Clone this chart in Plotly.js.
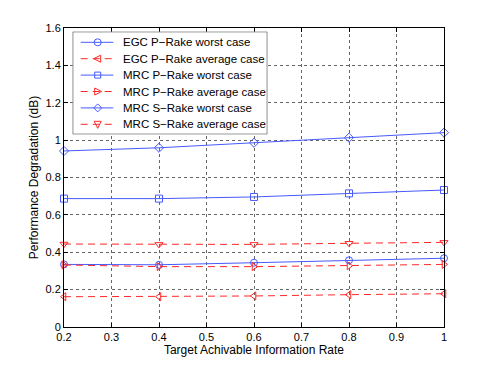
<!DOCTYPE html>
<html>
<head>
<meta charset="utf-8">
<script src="https://cdn.plot.ly/plotly-3.0.1.min.js"></script>
<style>
  html, body { margin: 0; padding: 0; background: #fff; }
  #chart { width: 491px; height: 369px; }
</style>
</head>
<body>
<div id="chart"></div>
<script>
// target achievable information rate
const rates = [0.2, 0.4, 0.6, 0.8, 1.0];

// performance degradation (dB)
const egcPWorst = [0.335, 0.333, 0.344, 0.357, 0.368];
const egcPAvg = [0.162, 0.162, 0.166, 0.173, 0.178];
const mrcPWorst = [0.687, 0.687, 0.696, 0.715, 0.733];
const mrcPAvg = [0.332, 0.323, 0.323, 0.328, 0.335];
const mrcSWorst = [0.942, 0.959, 0.986, 1.013, 1.04];
const mrcSAvg = [0.444, 0.442, 0.442, 0.448, 0.453];

const seriesNames = [
    'EGC P\u2212Rake worst case',
    'EGC P\u2212Rake average case',
    'MRC P\u2212Rake worst case',
    'MRC P\u2212Rake average case',
    'MRC S\u2212Rake worst case',
    'MRC S\u2212Rake average case'
];

const blue = 'rgb(70,90,255)';
const red = 'rgb(255,40,40)';
const dashed = '7px,5px';

const styles = [
    { color: blue, dash: 'solid', symbol: 'circle-open' },
    { color: red, dash: dashed, symbol: 'triangle-left-open' },
    { color: blue, dash: 'solid', symbol: 'square-open' },
    { color: red, dash: dashed, symbol: 'triangle-right-open' },
    { color: blue, dash: 'solid', symbol: 'diamond-open' },
    { color: red, dash: dashed, symbol: 'triangle-down-open' }
];
const seriesData = [egcPWorst, egcPAvg, mrcPWorst, mrcPAvg, mrcSWorst, mrcSAvg];

const traces = seriesData.map((y, i) => ({
    x: rates,
    y: y,
    name: seriesNames[i],
    type: 'scatter',
    mode: 'lines+markers',
    cliponaxis: false,
    line: { color: styles[i].color, width: 1, dash: styles[i].dash },
    marker: { symbol: styles[i].symbol, size: 7, color: styles[i].color,
              line: { color: styles[i].color, width: 1 } }
}));

// hand-made legend (matlab style, tighter rows than plotly's own legend),
// drawn as shapes on a hidden axis pair measured in pixels
const plotW = 380, plotH = 299;
const boxL = 8.7, boxT = 3.7, boxW = 194.6, boxH = 102.6;
const rowStep = 16.4, rowFirst = 10.6;
const mx = 25, r = 3.5;

function markerShape(symbol, y, color) {
    const base = { xref: 'x2', yref: 'y2', layer: 'above',
                   line: { color: color, width: 1 }, fillcolor: 'rgba(0,0,0,0)' };
    let path;
    if (symbol === 'circle-open') {
        return Object.assign(base, { type: 'circle', x0: mx - r, x1: mx + r, y0: y - r, y1: y + r });
    }
    if (symbol === 'square-open') {
        return Object.assign(base, { type: 'rect', x0: mx - 3, x1: mx + 3, y0: y - 3, y1: y + 3 });
    }
    if (symbol === 'diamond-open') {
        path = `M${mx},${y - 4} L${mx + 4},${y} L${mx},${y + 4} L${mx - 4},${y} Z`;
    } else if (symbol === 'triangle-left-open') {
        path = `M${mx - 4},${y} L${mx + 3},${y - r} L${mx + 3},${y + r} Z`;
    } else if (symbol === 'triangle-right-open') {
        path = `M${mx + 4},${y} L${mx - 3},${y - r} L${mx - 3},${y + r} Z`;
    } else {
        path = `M${mx - r},${y - 3} L${mx + r},${y - 3} L${mx},${y + 4} Z`;
    }
    return Object.assign(base, { type: 'path', path: path });
}

const legendShapes = [{
    type: 'rect', xref: 'x2', yref: 'y2', layer: 'above',
    x0: 0, x1: boxW, y0: 0, y1: boxH,
    fillcolor: '#fff', line: { color: '#000', width: 1 }
}];
const legendNotes = [];
seriesNames.forEach((name, i) => {
    const ry = rowFirst + rowStep * i;
    legendShapes.push({
        type: 'line', xref: 'x2', yref: 'y2', layer: 'above',
        x0: 8, x1: 40.6, y0: ry, y1: ry,
        line: { color: styles[i].color, width: 1, dash: styles[i].dash }
    });
    legendShapes.push(markerShape(styles[i].symbol, ry, styles[i].color));
    legendNotes.push({
        x: 48, y: ry, xref: 'x2', yref: 'y2',
        text: name, showarrow: false,
        xanchor: 'left', yanchor: 'middle',
        font: { size: 11.5, color: '#000' }
    });
});

const axisCommon = {
    showline: true,
    mirror: 'ticks',
    linecolor: '#000',
    linewidth: 1,
    ticks: 'inside',
    ticklen: 4,
    tickcolor: '#000',
    showgrid: true,
    gridcolor: '#666',
    griddash: 'dot',
    gridwidth: 1,
    zeroline: false,
    tickfont: { size: 11, color: '#000' }
};

const layout = {
    width: 491,
    height: 369,
    margin: { l: 64, r: 47, t: 28, b: 42 },
    paper_bgcolor: '#fff',
    plot_bgcolor: '#fff',
    font: { family: 'Liberation Sans, Arial, sans-serif', size: 11, color: '#000' },
    showlegend: false,
    xaxis: Object.assign({}, axisCommon, {
        range: [0.2, 1.0],
        tickvals: [0.2, 0.3, 0.4, 0.5, 0.6, 0.7, 0.8, 0.9, 1.0],
        ticktext: ['0.2', '0.3', '0.4', '0.5', '0.6', '0.7', '0.8', '0.9', '1'],
        title: { text: 'Target Achivable Information Rate', font: { size: 12 }, standoff: 3 }
    }),
    yaxis: Object.assign({}, axisCommon, {
        range: [0, 1.6],
        tickvals: [0, 0.2, 0.4, 0.6, 0.8, 1.0, 1.2, 1.4, 1.6],
        ticktext: ['0', '0.2', '0.4', '0.6', '0.8', '1', '1.2', '1.4', '1.6'],
        title: { text: 'Performance Degradation (dB)', font: { size: 12 }, standoff: 4 }
    }),
    xaxis2: {
        domain: [boxL / plotW, (boxL + boxW) / plotW],
        range: [0, boxW],
        anchor: 'y2', visible: false, fixedrange: true
    },
    yaxis2: {
        domain: [1 - (boxT + boxH) / plotH, 1 - boxT / plotH],
        range: [boxH, 0],
        anchor: 'x2', visible: false, fixedrange: true
    },
    shapes: legendShapes,
    annotations: legendNotes
};

Plotly.newPlot('chart', traces, layout, { displayModeBar: false, staticPlot: true });
</script>
</body>
</html>
